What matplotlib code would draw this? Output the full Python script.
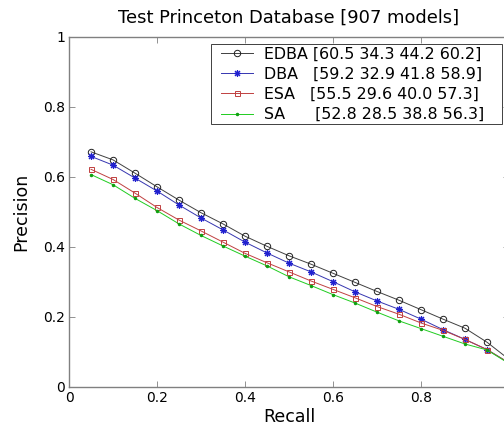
import numpy as np
import matplotlib
matplotlib.use('Agg')
import matplotlib.pyplot as plt
from matplotlib.legend_handler import HandlerLine2D

# recall levels
recall = [0.05, 0.10, 0.15, 0.20, 0.25, 0.30, 0.35, 0.40, 0.45, 0.50,
          0.55, 0.60, 0.65, 0.70, 0.75, 0.80, 0.85, 0.90, 0.95, 1.00]

edba = [0.671, 0.648, 0.610, 0.571, 0.533, 0.497, 0.465, 0.430, 0.401, 0.374,
        0.350, 0.324, 0.298, 0.272, 0.247, 0.220, 0.193, 0.167, 0.127, 0.078]
dba = [0.658, 0.633, 0.596, 0.559, 0.519, 0.482, 0.448, 0.413, 0.382, 0.353,
       0.328, 0.300, 0.271, 0.245, 0.221, 0.193, 0.163, 0.135, 0.106, 0.068]
esa = [0.621, 0.592, 0.553, 0.512, 0.476, 0.445, 0.413, 0.381, 0.354, 0.328,
       0.302, 0.278, 0.254, 0.229, 0.207, 0.182, 0.161, 0.135, 0.106, 0.068]
sa = [0.606, 0.577, 0.538, 0.503, 0.465, 0.432, 0.402, 0.373, 0.345, 0.314,
      0.289, 0.263, 0.239, 0.213, 0.188, 0.166, 0.144, 0.122, 0.105, 0.066]

labels = ['EDBA [60.5 34.3 44.2 60.2]   ',
          'DBA   [59.2 32.9 41.8 58.9]   ',
          'ESA   [55.5 29.6 40.0 57.3]   ',
          'SA      [52.8 28.5 38.8 56.3]   ']

fig = plt.figure(figsize=(5.04, 4.29), dpi=100)
ax = fig.add_axes([0.137, 0.0986, 0.873, 0.8159])

lw = 0.7
ax.plot(recall, edba, color='#404040', lw=lw, marker='o', ms=4.6,
        mfc='none', mec='#202020', mew=0.7, label=labels[0])
ax.plot(recall, dba, color='#3535b0', lw=lw, marker=(8, 2, 0), ms=5,
        mfc='#2020d0', mec='#2020d0', mew=0.8, label=labels[1])
ax.plot(recall, esa, color='#c04040', lw=lw, marker='s', ms=3.6,
        mfc='none', mec='#c04040', mew=0.7, label=labels[2])
ax.plot(recall, sa, color='#20cc20', lw=lw, marker='.', ms=3,
        mfc='#10a010', mec='#10a010', label=labels[3])

ax.set_xlim(0, 1)
ax.set_ylim(0, 1)
ticks = [0, 0.2, 0.4, 0.6, 0.8, 1]
ax.set_xticks(ticks)
ax.set_xticklabels(['0', '0.2', '0.4', '0.6', '0.8', ''])
ax.set_yticks(ticks)
ax.set_yticklabels(['0', '0.2', '0.4', '0.6', '0.8', '1'])
ax.tick_params(direction='in', top=True, right=True, length=4, width=0.6,
               color='#808080', labelsize=10, pad=3)
for s in ax.spines.values():
    s.set_color('#808080')
    s.set_linewidth(1.0)

ax.set_title('Test Princeton Database [907 models]', fontsize=12.9, pad=10)
ax.set_xlabel('Recall', fontsize=12.5, labelpad=2)
ax.set_ylabel('Precision', fontsize=12.5, labelpad=9)

leg = ax.legend(loc='upper right', bbox_to_anchor=(501.7 / 504, 1 - 44 / 429),
                bbox_transform=fig.transFigure, borderaxespad=0,
                fontsize=11.4, fancybox=False, framealpha=1, edgecolor='#404040',
                handlelength=2.5, handletextpad=0.7, labelspacing=0.33,
                borderpad=0.15,
                handler_map={matplotlib.lines.Line2D: HandlerLine2D(xpad=0.47)})
leg.get_frame().set_linewidth(0.7)

fig.savefig('out.png', dpi=100)
